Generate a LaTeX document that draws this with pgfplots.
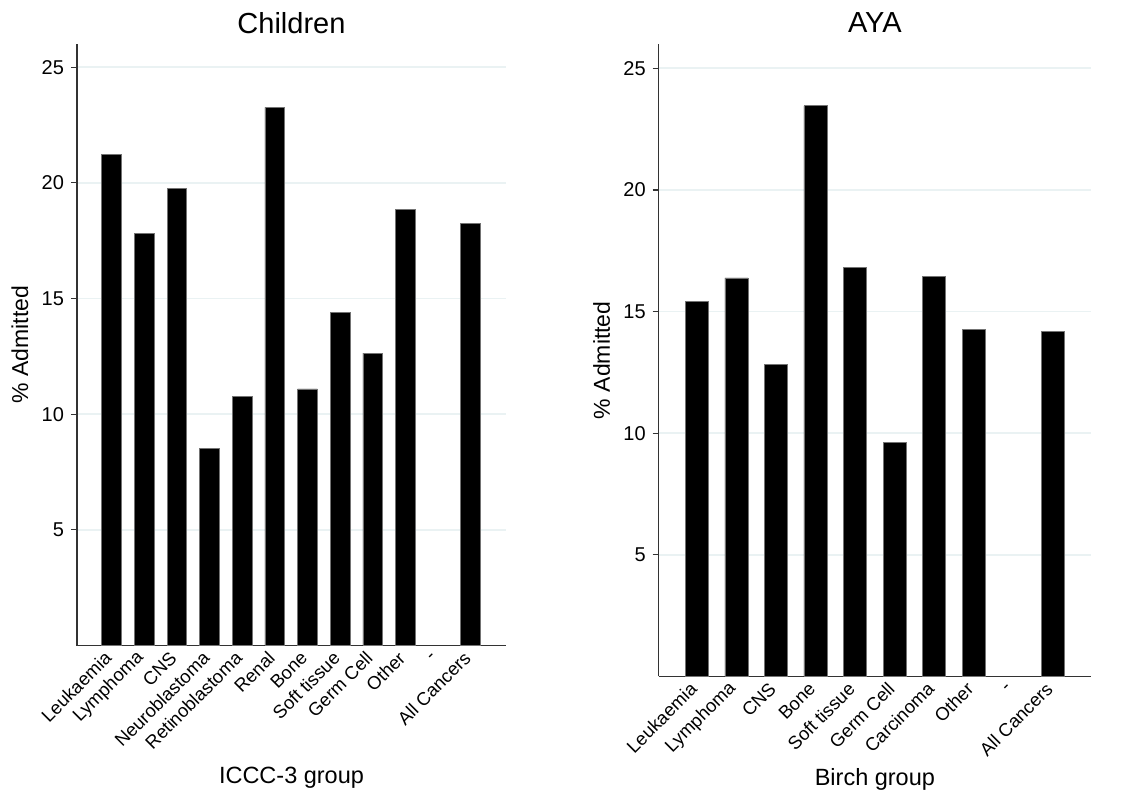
\documentclass[border=0pt]{standalone}
\usepackage{fontspec}
\setmainfont{Liberation Sans}
\usepackage{pgfplots}
\pgfplotsset{compat=1.18}
\definecolor{gridc}{HTML}{EAF2F3}
\definecolor{axc}{HTML}{333333}

\pgfplotsset{
  statabar/.style={
    scale only axis,
    axis lines*=left,
    axis line style={axc, line width=0.7pt},
    ymin=0, ymax=26,
    ytick={5,10,15,20,25},
    ymajorgrids,
    grid style={gridc, line width=0.9pt},
    tick align=outside,
    major tick length=3pt,
    ytick style={axc, line width=0.6pt},
    xtick style={draw=none},
    /pgf/number format/assume math mode=true,
    yticklabel style={font=\fontsize{10}{12}\selectfont},
    xticklabel style={font=\fontsize{9.2}{11}\selectfont, rotate=45, anchor=east, xshift=1pt},
    xlabel style={font=\fontsize{11.75}{14}\selectfont, anchor=center},
    ylabel style={font=\fontsize{11.5}{14}\selectfont, anchor=center},
    title style={font=\fontsize{14.5}{17}\selectfont, at={(axis description cs:0.5,1)}, anchor=center, yshift=4.5pt},
    ylabel={\% Admitted},
  },
  blackbar/.style={ybar, bar shift=0pt, fill=black, draw=black!55, line width=0.4pt},
}

\begin{document}
\begin{tikzpicture}
\path[use as bounding box] (0,0) rectangle (563pt,-399.5pt);

% Children
\begin{axis}[statabar,
  at={(38.5pt,-22pt)}, anchor=north west,
  width=214.5pt, height=300.75pt,
  xmin=-1.06, xmax=12.08,
  xtick={0,...,11},
  xticklabels={Leukaemia,Lymphoma,CNS,Neuroblastoma,Retinoblastoma,Renal,Bone,Soft tissue,Germ Cell,Other,-,All Cancers},
  title={Children},
  xlabel={ICCC-3 group},
  xlabel style={at={(axis description cs:0.5,-0.2203)}},
  ylabel style={at={(axis description cs:-0.1329,0.5)}},
]
\addplot[blackbar, bar width=9.85pt] coordinates {
  (0,21.23) (1,17.80) (2,19.74) (3,8.53) (4,10.76) (5,23.26)
  (6,11.09) (7,14.40) (8,12.64) (9,18.85) (11,18.26)
};
\end{axis}

% AYA
\begin{axis}[statabar,
  at={(329.35pt,-22pt)}, anchor=north west,
  width=216.2pt, height=316.2pt,
  xmin=-0.97, xmax=9.97,
  xtick={0,...,9},
  xticklabels={Leukaemia,Lymphoma,CNS,Bone,Soft tissue,Germ Cell,Carcinoma,Other,-,All Cancers},
  title={AYA},
  xlabel={Birch group},
  xlabel style={at={(axis description cs:0.5,-0.1624)}},
  ylabel style={at={(axis description cs:-0.1319,0.5)}},
]
\addplot[blackbar, bar width=11.65pt] coordinates {
  (0,15.42) (1,16.38) (2,12.81) (3,23.46) (4,16.80)
  (5,9.61) (6,16.43) (7,14.27) (9,14.19)
};
\end{axis}
\end{tikzpicture}
\end{document}
